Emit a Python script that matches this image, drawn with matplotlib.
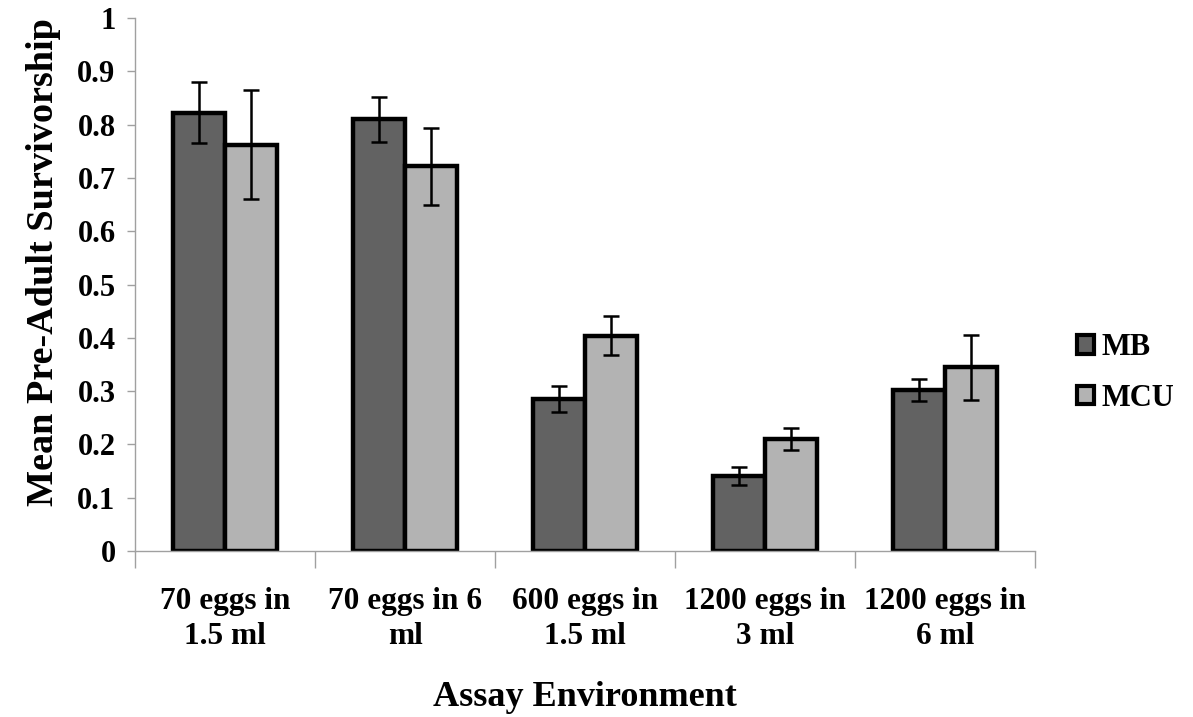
import numpy as np
import matplotlib
matplotlib.use("Agg")
import matplotlib.pyplot as plt
from matplotlib.patches import Patch

# средняя выживаемость до взрослой стадии по средам
categories = ["70 eggs in\n1.5 ml", "70 eggs in 6\nml", "600 eggs in\n1.5 ml",
              "1200 eggs in\n3 ml", "1200 eggs in\n6 ml"]
mb_mean = [0.822, 0.810, 0.285, 0.141, 0.302]
mb_err = [0.057, 0.042, 0.024, 0.017, 0.021]
mcu_mean = [0.762, 0.722, 0.404, 0.210, 0.345]
mcu_err = [0.102, 0.072, 0.037, 0.020, 0.061]
y_ticks = [0, 0.1, 0.2, 0.3, 0.4, 0.5, 0.6, 0.7, 0.8, 0.9, 1]

plt.rcParams['font.family'] = ['Liberation Serif', 'DejaVu Serif']
plt.rcParams['font.weight'] = 'bold'
plt.rcParams['axes.labelweight'] = 'bold'

fig = plt.figure(figsize=(11.93, 7.17), dpi=100)
ax = fig.add_axes([0.1132, 0.2315, 0.7544, 0.7434])

x = np.arange(len(categories))
w = 0.29
ax.bar(x - w / 2, mb_mean, w, color='#626262', edgecolor='black', linewidth=3.2,
       yerr=mb_err, error_kw=dict(ecolor='black', elinewidth=1.8, capsize=6, capthick=1.8),
       label='MB', zorder=2)
ax.bar(x + w / 2, mcu_mean, w, color='#b3b3b3', edgecolor='black', linewidth=3.2,
       yerr=mcu_err, error_kw=dict(ecolor='black', elinewidth=1.8, capsize=6, capthick=1.8),
       label='MCU', zorder=2)

ax.set_xlim(-0.5, len(categories) - 0.5)
ax.set_ylim(0, 1)
ax.set_yticks(y_ticks)
ax.set_yticklabels([f"{t:g}" for t in y_ticks])

# подписи по центру групп, засечки на границах групп
ax.set_xticks(x)
ax.set_xticklabels(categories, linespacing=1.25)
ax.set_xticks(np.arange(len(categories) + 1) - 0.5, minor=True)
ax.tick_params(axis='x', which='major', length=0, pad=26, labelsize=22.5)
ax.tick_params(axis='x', which='minor', length=12, color='#a0a0a0', width=1)
ax.tick_params(axis='y', length=6, color='#a0a0a0', width=1, labelsize=22, pad=8)

for s in ['top', 'right']:
    ax.spines[s].set_visible(False)
for s in ['left', 'bottom']:
    ax.spines[s].set_color('#a0a0a0')
    ax.spines[s].set_linewidth(1)

ax.set_ylabel('Mean Pre-Adult Survivorship', fontsize=27.5)
ax.yaxis.set_label_coords(-0.082, 0.543)
ax.set_xlabel('Assay Environment', fontsize=26)
ax.xaxis.set_label_coords(0.5, -0.244)

handles = [Patch(facecolor='#626262', edgecolor='black', linewidth=3),
           Patch(facecolor='#b3b3b3', edgecolor='black', linewidth=3)]
fig.legend(handles, ['MB', 'MCU'], loc='center left', bbox_to_anchor=(0.88, 0.48),
           frameon=False, fontsize=22, handlelength=0.55, handleheight=0.55,
           handletextpad=0.25, labelspacing=0.7)

fig.savefig('out.png', dpi=100)
